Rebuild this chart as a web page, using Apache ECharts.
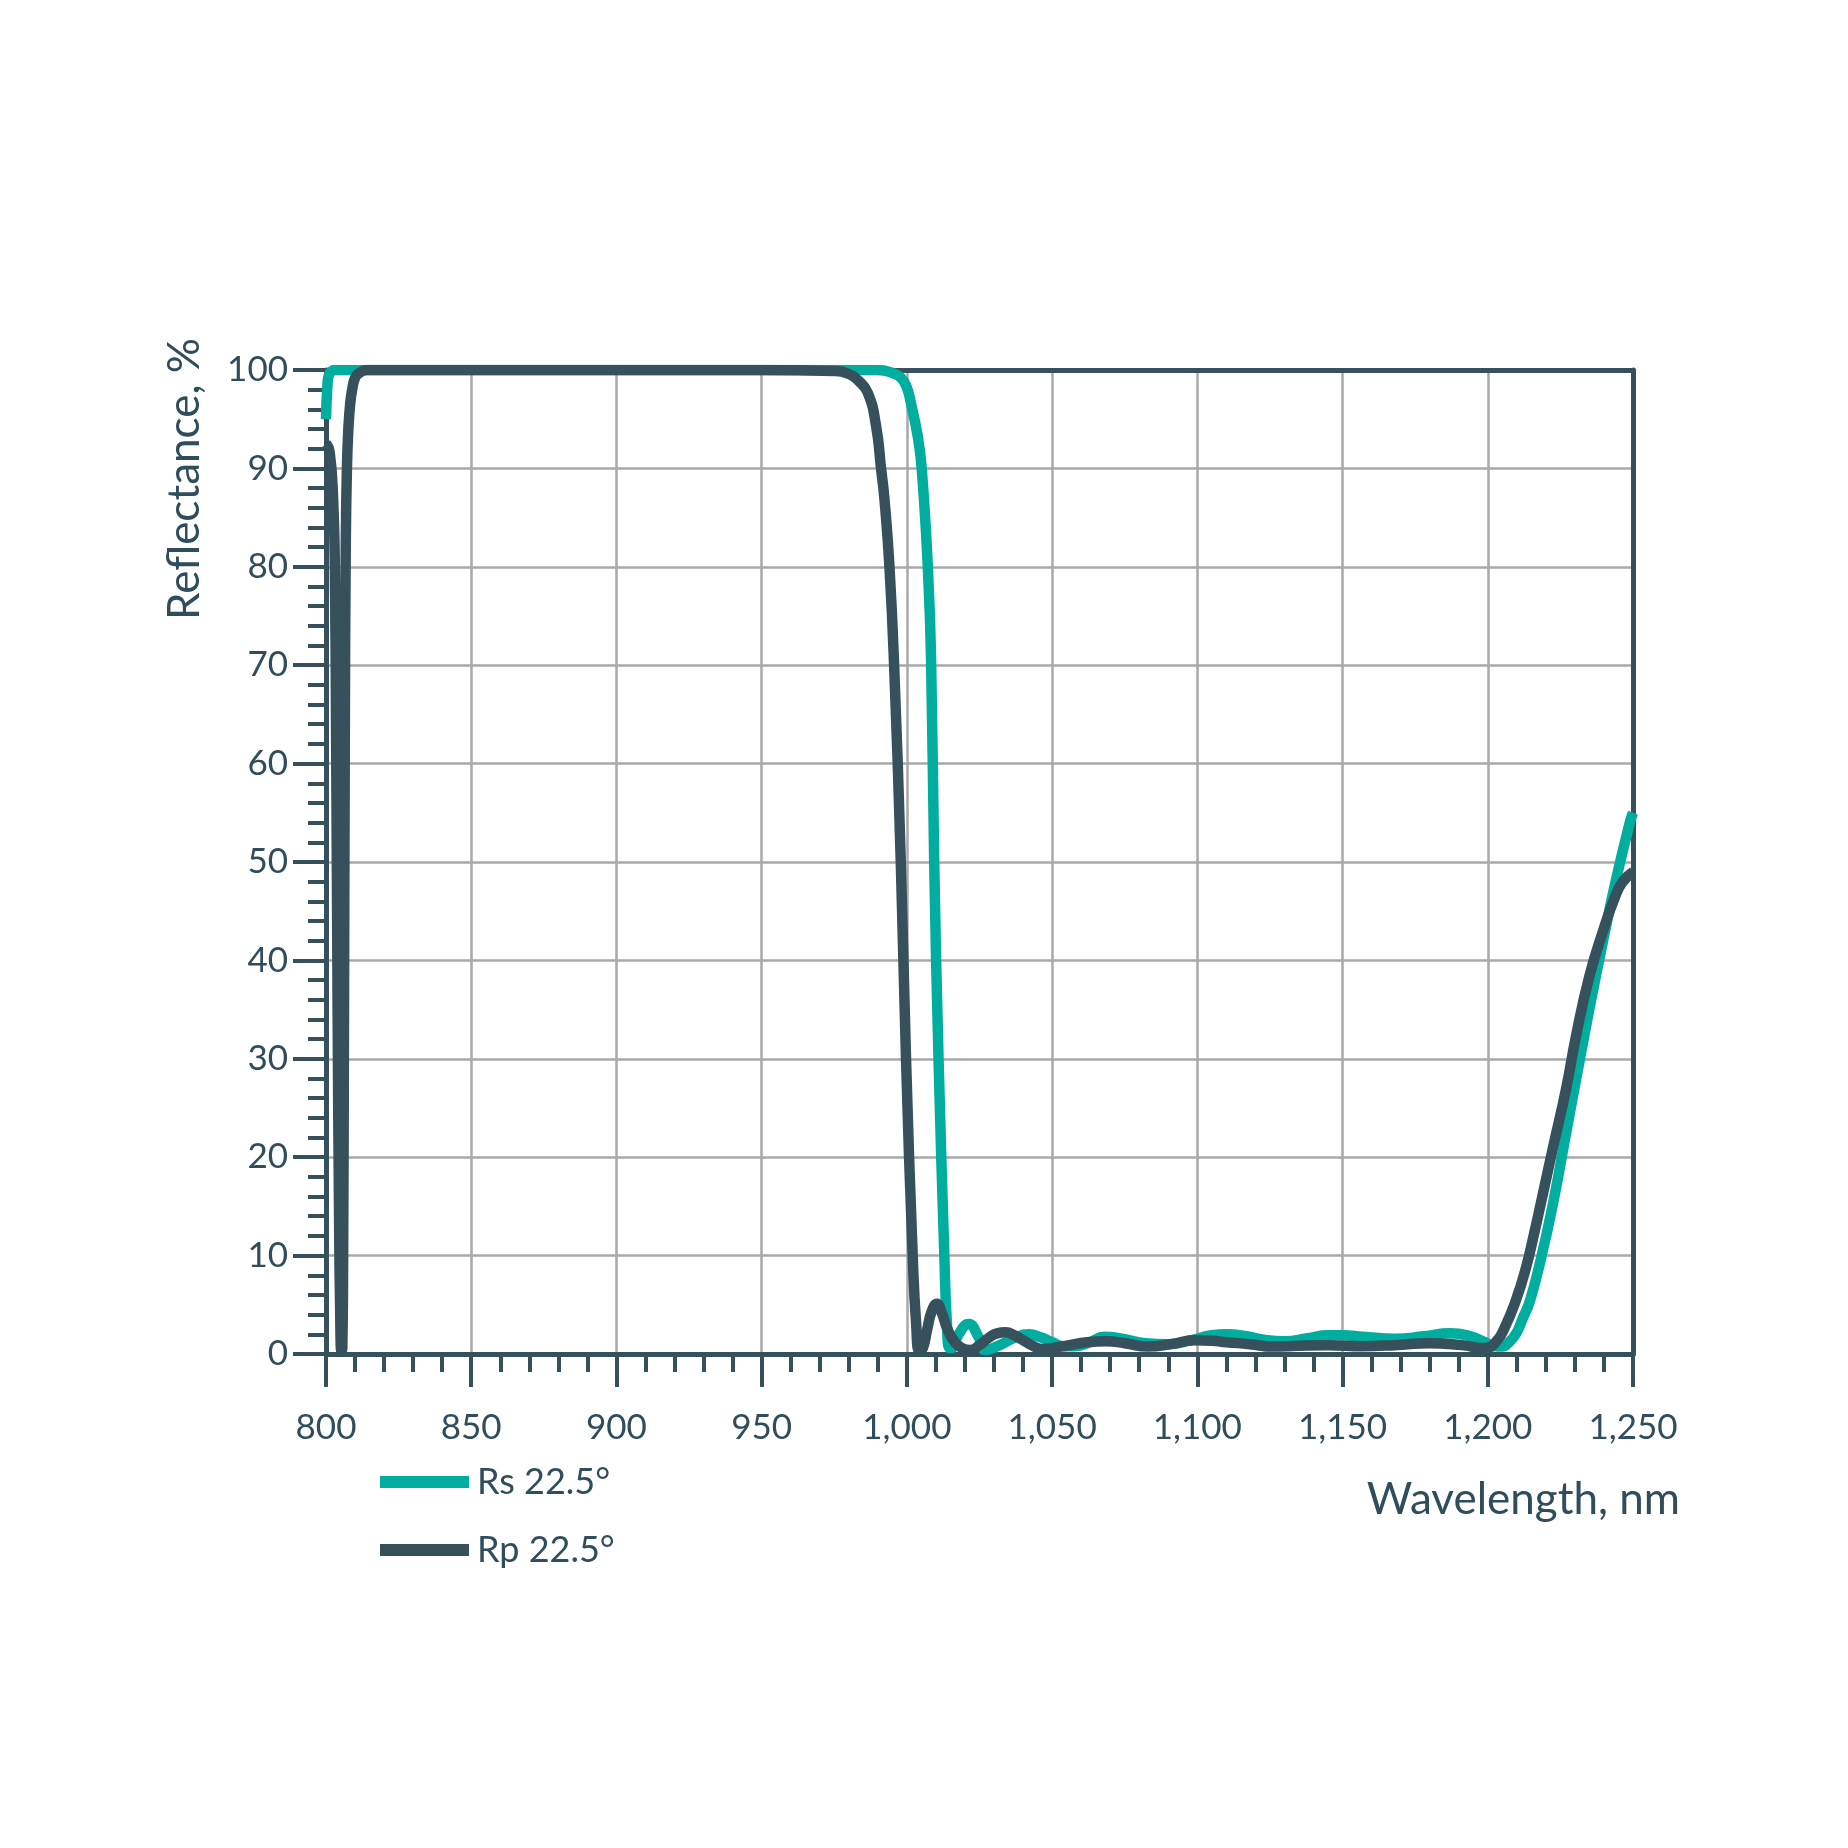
<!DOCTYPE html>
<html>
<head>
<meta charset="utf-8">
<script src="https://cdn.jsdelivr.net/npm/echarts@6/dist/echarts.min.js"></script>
<style>
html,body{margin:0;padding:0;background:#fff;}
#chart{width:1848px;height:1848px;}
</style>
</head>
<body>
<div id="chart"></div>
<script>
// Series names
const seriesNames = ['Rs 22.5°', 'Rp 22.5°'];

// Rs 22.5° (teal) – wavelength (nm) and reflectance (%)
const rsWavelength = [800, 800.5, 801, 802, 803, 850, 900, 950, 990, 995, 998, 1000, 1001.4, 1003.7, 1005.1, 1007.2, 1008.3, 1009.4, 1010.9, 1012.9, 1013.8, 1014.8, 1016, 1017.8, 1021.3, 1024.7, 1027, 1031.6, 1037.4, 1042, 1046, 1050, 1054, 1058, 1063, 1068, 1075, 1082, 1090, 1098, 1105, 1110, 1117, 1124, 1130, 1138, 1145, 1150, 1157, 1168, 1178, 1187, 1194, 1199, 1202, 1205, 1207, 1209.8, 1212, 1214.4, 1218, 1222.4, 1227, 1231.6, 1235.6, 1239.7, 1244, 1248.9, 1250];
const rsReflectance = [95, 98.5, 99.5, 99.9, 100, 100, 100, 100, 100, 99.7, 99.2, 98.2, 96.6, 93.3, 90, 80, 71, 50, 30, 10, 3, 0.6, 0.7, 2.0, 3.05, 1.7, 0.4, 0.85, 1.7, 2.0, 1.7, 1.2, 0.8, 0.8, 1.2, 1.75, 1.5, 1.1, 1.0, 1.4, 1.9, 2.0, 1.8, 1.4, 1.3, 1.6, 1.9, 1.9, 1.75, 1.55, 1.8, 2.1, 1.8, 1.2, 0.8, 0.75, 1.1, 2.1, 3.6, 5.3, 9.3, 15.2, 22.5, 29.8, 36, 42, 48, 54, 55];

// Rp 22.5° (dark) – wavelength (nm) and reflectance (%)
const rpWavelength = [800, 800.5, 801, 801.5, 802, 802.5, 803, 803.5, 804, 804.5, 804.9, 805.3, 805.6, 805.9, 806.2, 806.5, 806.8, 807.2, 807.7, 808.3, 809, 810, 811.5, 814, 850, 900, 950, 975, 980, 983, 986.5, 989.4, 991.1, 992.3, 994, 995.6, 997.9, 999.7, 1002, 1003.2, 1004.3, 1005.5, 1007, 1008.5, 1010.3, 1012, 1014, 1016.5, 1019, 1021.8, 1025, 1028, 1031, 1034, 1037, 1040, 1043, 1046.6, 1050, 1055, 1062, 1068.5, 1075, 1083, 1091, 1099, 1105, 1110, 1118, 1126, 1135, 1145, 1157, 1168, 1180, 1191, 1199, 1203, 1206, 1209.5, 1213, 1216, 1219, 1222.4, 1227, 1230.5, 1235, 1239.7, 1244, 1246.5, 1250];
const rpReflectance = [92.5, 92.3, 92, 91, 89.5, 86.5, 81, 62, 35, 14, 4, 0.3, 0.5, 10, 35, 65, 82, 90, 94, 96.5, 98, 99.2, 99.7, 100, 100, 100, 100, 99.9, 99.6, 99, 97.7, 94.3, 90, 86.8, 80, 70, 50, 30, 10, 3, 0.3, 0.6, 2.5, 4.3, 5.1, 4.2, 2.5, 1.2, 0.6, 0.4, 0.9, 1.6, 2.1, 2.2, 1.9, 1.4, 0.9, 0.5, 0.6, 0.85, 1.2, 1.3, 1.1, 0.75, 1.0, 1.4, 1.35, 1.2, 1.0, 0.75, 0.85, 0.9, 0.8, 0.9, 1.1, 0.9, 0.6, 1.3, 2.8, 5.3, 8.6, 12.3, 16.3, 20.9, 27, 32.5, 38.4, 43, 46.6, 48, 49];

// Axis settings
const xMin = 800, xMax = 1250, xStep = 50;
const yMin = 0, yMax = 100, yStep = 10;
const xTitle = 'Wavelength, nm';
const yTitle = 'Reflectance, %';

const TEAL = '#00ad9e';
const DARK = '#36505c';
const TEXT = '#2f4d5b';
const GRID = '#a9a9a9';
const FONT = 'Lato, "Noto Sans", sans-serif';

function pairs(xs, ys) { return xs.map((x, i) => [x, ys[i]]); }

const frameAxis = {
  axisLine: {show: true, onZero: false, lineStyle: {color: DARK, width: 5}},
  axisTick: {show: false}, axisLabel: {show: false}, splitLine: {show: false}
};

const chart = echarts.init(document.getElementById('chart'), null, {renderer: 'canvas'});
chart.setOption({
  animation: false,
  backgroundColor: '#ffffff',
  grid: {left: 326, right: 215, top: 370, bottom: 494},
  xAxis: [{
    type: 'value', min: xMin, max: xMax, interval: xStep, position: 'bottom',
    axisLine: {show: true, onZero: false, lineStyle: {color: DARK, width: 5}},
    axisTick: {show: true, length: 33, lineStyle: {color: DARK, width: 4}},
    minorTick: {show: true, splitNumber: 5, length: 18, lineStyle: {color: DARK, width: 4}},
    splitLine: {show: true, lineStyle: {color: GRID, width: 2.5}},
    axisLabel: {
      margin: 56, color: TEXT, fontFamily: FONT, fontSize: 35, lineHeight: 35,
      formatter: v => v.toLocaleString('en-US')
    }
  }, Object.assign({type: 'value', min: xMin, max: xMax, interval: xStep, position: 'top'}, frameAxis)],
  yAxis: [{
    type: 'value', min: yMin, max: yMax, interval: yStep, position: 'left',
    axisLine: {show: true, onZero: false, lineStyle: {color: DARK, width: 5}},
    axisTick: {show: true, length: 33, lineStyle: {color: DARK, width: 4}},
    minorTick: {show: true, splitNumber: 5, length: 18, lineStyle: {color: DARK, width: 4}},
    splitLine: {show: true, lineStyle: {color: GRID, width: 2.5}},
    axisLabel: {margin: 38, color: TEXT, fontFamily: FONT, fontSize: 35}
  }, Object.assign({type: 'value', min: yMin, max: yMax, interval: yStep, position: 'right'}, frameAxis)],
  legend: {
    data: seriesNames,
    orient: 'vertical', left: 375, top: 1457,
    icon: 'rect', itemWidth: 89, itemHeight: 12, itemGap: 28,
    textStyle: {color: TEXT, fontFamily: FONT, fontSize: 36, lineHeight: 40, padding: [0, 0, 0, 3]}
  },
  graphic: [
    {
      type: 'text', x: 185, y: 479, rotation: Math.PI / 2,
      style: {text: yTitle, fill: TEXT, font: '44px ' + FONT, textAlign: 'center', textVerticalAlign: 'middle'}
    },
    {
      type: 'text', x: 1680, y: 1500,
      style: {text: xTitle, fill: TEXT, font: '44px ' + FONT, textAlign: 'right', textVerticalAlign: 'middle'}
    }
  ],
  series: [
    {
      name: seriesNames[0], type: 'line', data: pairs(rsWavelength, rsReflectance),
      showSymbol: false, smooth: 0.5, color: TEAL,
      lineStyle: {color: TEAL, width: 10.5}, z: 2
    },
    {
      name: seriesNames[1], type: 'line', data: pairs(rpWavelength, rpReflectance),
      showSymbol: false, smooth: 0.5, color: DARK,
      lineStyle: {color: DARK, width: 10.5}, z: 3
    }
  ]
});
</script>
</body>
</html>
